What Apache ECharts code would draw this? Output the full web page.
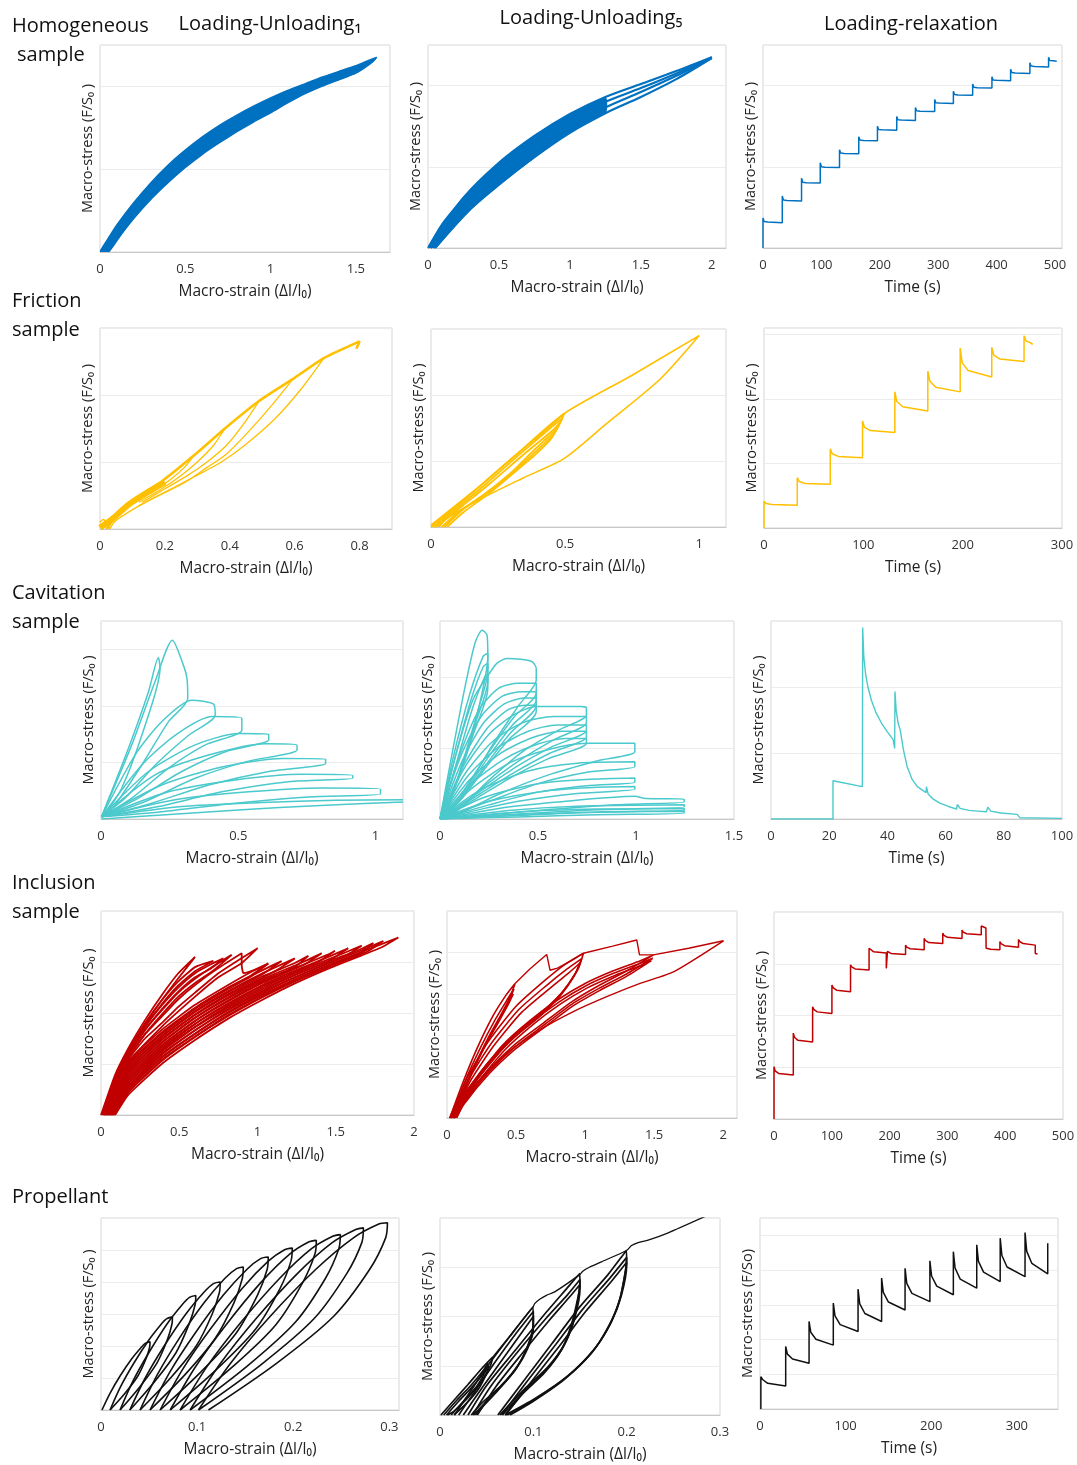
<!DOCTYPE html>
<html>
<head>
<meta charset="utf-8">
<title>Macro-stress response of the samples</title>
<script src="https://cdn.jsdelivr.net/npm/echarts@6.0.0/dist/echarts.min.js"></script>
<style>
  html, body { margin: 0; padding: 0; background: #fff; }
  #chart { width: 1077px; height: 1465px; }
</style>
</head>
<body>
<div id="chart"></div>
<script>
const BLUE = '#0070c0';
const YELLOW = '#ffc000';
const CYAN = '#4bc9cc';
const RED = '#c00000';
const BLACK = '#111111';
const FONT = 'Open Sans';

const STRAIN = 'Macro-strain (Δl/l₀)';
const TIME = 'Time (s)';
const STRESS = 'Macro-stress (F/S₀ )';
const STRESS_O = 'Macro-stress (F/So)';

const rowLabels = [
  ['Homogeneous', 'sample'],
  ['Friction', 'sample'],
  ['Cavitation', 'sample'],
  ['Inclusion', 'sample'],
  ['Propellant']
];
const colTitles = ['Loading-Unloading₁', 'Loading-Unloading₅', 'Loading-relaxation'];

// ---------- homogeneous sample ----------
const homLU1Upper = [[0, 0], [0.05, 0.17], [0.1, 0.33], [0.2, 0.6], [0.3, 0.84], [0.4, 1.05], [0.5, 1.23], [0.6, 1.39], [0.7, 1.53], [0.8, 1.65], [0.9, 1.76], [1.0, 1.86], [1.1, 1.95], [1.2, 2.03], [1.3, 2.11], [1.4, 2.18], [1.5, 2.25], [1.62, 2.35]];
const homLU1Lower = [[1.6, 2.3], [1.5, 2.16], [1.4, 2.08], [1.3, 2.0], [1.2, 1.91], [1.1, 1.8], [1.0, 1.68], [0.9, 1.57], [0.8, 1.45], [0.7, 1.32], [0.6, 1.18], [0.5, 1.02], [0.4, 0.84], [0.3, 0.64], [0.2, 0.41], [0.12, 0.2], [0.05, 0]];

const homLU5Upper = [[0, 0], [0.1, 0.3], [0.25, 0.62], [0.5, 1.05], [0.75, 1.38], [1.0, 1.64], [1.25, 1.85]];
const homLU5Lower = [[1.25, 1.67], [1.0, 1.43], [0.75, 1.12], [0.5, 0.78], [0.3, 0.48], [0.15, 0.2], [0.05, 0]];
const homLU5Loops = [
  [[0, 0], [0.25, 0.62], [0.5, 1.05], [0.75, 1.38], [1.0, 1.65], [1.25, 1.86], [1.5, 2.02], [1.75, 2.18], [2.0, 2.35]],
  [[0.02, 0], [0.3, 0.62], [0.5, 0.95], [0.75, 1.3], [1.0, 1.58], [1.25, 1.8], [1.5, 1.97], [1.75, 2.15], [2.0, 2.35]],
  [[0.04, 0], [0.3, 0.55], [0.5, 0.86], [0.75, 1.2], [1.0, 1.5], [1.25, 1.73], [1.5, 1.92], [1.75, 2.12], [2.0, 2.34]],
  [[0.05, 0], [0.3, 0.48], [0.5, 0.78], [0.75, 1.12], [1.0, 1.42], [1.25, 1.66], [1.5, 1.86], [1.75, 2.08], [2.0, 2.34]]
];

const homRelaxTime = [0, 33, 66, 98, 131, 164, 196, 229, 261, 294, 326, 359, 392, 424, 457, 489];
const homRelaxPeak = [0.37, 0.64, 0.86, 1.05, 1.21, 1.37, 1.5, 1.62, 1.73, 1.83, 1.93, 2.02, 2.11, 2.2, 2.28, 2.35];
const homRelaxMid1 = [0.325, 0.59, 0.81, 1.0, 1.17, 1.33, 1.46, 1.58, 1.69, 1.79, 1.89, 1.98, 2.07, 2.16, 2.24, 2.31];
const homRelaxMid2 = [0.32, 0.585, 0.805, 0.995, 1.165, 1.325, 1.455, 1.575, 1.685, 1.785, 1.885, 1.975, 2.065, 2.155, 2.235, 2.305];
const homRelaxEnd = [0.31, 0.58, 0.8, 0.99, 1.16, 1.32, 1.45, 1.57, 1.68, 1.78, 1.88, 1.97, 2.06, 2.15, 2.23, 2.3];

// ---------- friction sample ----------
const fricLU1Envelope = [[0.02, 0], [0.05, 0.2], [0.087, 0.38], [0.19, 0.71], [0.29, 1.1], [0.385, 1.5], [0.49, 1.91], [0.595, 2.24], [0.69, 2.55], [0.8, 2.8], [0.79, 2.69]];
const fricLU1Unload = [
  [[0.69, 2.55], [0.62, 2.09], [0.54, 1.65], [0.446, 1.25], [0.374, 1.0], [0.29, 0.78], [0.22, 0.6], [0.14, 0.4], [0.05, 0.13], [0.03, 0]],
  [[0.595, 2.24], [0.53, 1.85], [0.457, 1.45], [0.39, 1.12], [0.33, 0.92], [0.26, 0.69], [0.19, 0.52], [0.12, 0.35]],
  [[0.49, 1.91], [0.44, 1.55], [0.39, 1.25], [0.33, 1.0], [0.27, 0.8], [0.2, 0.6], [0.13, 0.4]],
  [[0.385, 1.5], [0.35, 1.25], [0.3, 1.0], [0.25, 0.8], [0.19, 0.6], [0.12, 0.4]],
  [[0.29, 1.1], [0.26, 0.92], [0.22, 0.75], [0.17, 0.58], [0.11, 0.4]]
];
const fricLU1Base = [[0, 0.02], [0.04, 0.16], [0.087, 0.36], [0.14, 0.53], [0.2, 0.7]];
const fricLU1Hook = [[0, 0.1], [0.01, 0.14], [0.03, 0]];

const fricLU5Outer = [[0, 0.03], [0.187, 0.64], [0.316, 1.09], [0.497, 1.72], [0.75, 2.3], [1.0, 2.9], [0.857, 2.25], [0.65, 1.55], [0.497, 1.04], [0.342, 0.74], [0.187, 0.43], [0.059, 0.13], [0.03, 0]];
const fricLU5Inner = [
  [[0, 0], [0.1, 0.33], [0.2, 0.68], [0.316, 1.09], [0.42, 1.44], [0.497, 1.72], [0.47, 1.5], [0.42, 1.3], [0.38, 1.15], [0.303, 0.84], [0.2, 0.5], [0.1, 0.22], [0.04, 0]],
  [[0.01, 0], [0.11, 0.33], [0.21, 0.67], [0.33, 1.1], [0.44, 1.48], [0.49, 1.65], [0.46, 1.42], [0.4, 1.18], [0.33, 0.92], [0.23, 0.58], [0.12, 0.27], [0.05, 0]],
  [[0.02, 0], [0.12, 0.33], [0.22, 0.66], [0.34, 1.08], [0.45, 1.45], [0.48, 1.58], [0.45, 1.35], [0.39, 1.1], [0.32, 0.86], [0.22, 0.52], [0.12, 0.22], [0.06, 0]]
];

const fricRelaxTime = [0, 33.5, 66.7, 99.2, 131.7, 164.9, 197.5, 229.3, 261.8];
const fricRelaxPeak = [0.415, 0.78, 1.226, 1.66, 2.11, 2.43, 2.79, 2.8, 2.98];
const fricRelaxMid1 = [0.38, 0.72, 1.15, 1.56, 1.96, 2.28, 2.56, 2.68, 2.9];
const fricRelaxMid2 = [0.365, 0.69, 1.11, 1.51, 1.88, 2.18, 2.44, 2.62, 2.86];
const fricRelaxEnd = [0.354, 0.677, 1.087, 1.48, 1.815, 2.11, 2.34, 2.58, 2.84];

// ---------- cavitation sample ----------
const cavLU1Loops = [
  [[0.002, 0.04], [0.1, 1.25], [0.173, 2.25], [0.209, 2.85], [0.215, 2.66], [0.161, 1.66], [0.075, 0.54], [0.008, 0.04]],
  [[0.002, 0.04], [0.112, 1.31], [0.197, 2.43], [0.26, 3.16], [0.3, 2.72], [0.313, 2.49], [0.316, 2.13], [0.246, 1.72], [0.148, 0.95], [0.051, 0.25], [0.002, 0.04]],
  [[0.002, 0.04], [0.124, 1.13], [0.221, 1.72], [0.331, 2.1], [0.41, 2.03], [0.416, 1.84], [0.319, 1.48], [0.197, 0.95], [0.088, 0.37], [0.002, 0.04]],
  [[0.002, 0.04], [0.148, 0.95], [0.27, 1.48], [0.404, 1.81], [0.513, 1.78], [0.513, 1.57], [0.38, 1.31], [0.246, 0.9], [0.112, 0.37], [0.002, 0.04]],
  [[0.002, 0.04], [0.173, 0.84], [0.343, 1.31], [0.501, 1.51], [0.611, 1.5], [0.611, 1.4], [0.453, 1.19], [0.294, 0.84], [0.136, 0.37], [0.002, 0.04]],
  [[0.002, 0.04], [0.197, 0.78], [0.392, 1.13], [0.599, 1.33], [0.714, 1.31], [0.714, 1.22], [0.526, 1.01], [0.343, 0.72], [0.161, 0.31], [0.002, 0.04]],
  [[0.002, 0.04], [0.221, 0.6], [0.44, 0.92], [0.659, 1.07], [0.818, 1.06], [0.818, 0.98], [0.611, 0.84], [0.392, 0.6], [0.185, 0.28], [0.002, 0.04]],
  [[0.002, 0.04], [0.246, 0.48], [0.489, 0.69], [0.732, 0.79], [0.917, 0.77], [0.917, 0.72], [0.684, 0.66], [0.44, 0.48], [0.209, 0.22], [0.002, 0.04]],
  [[0.002, 0.04], [0.27, 0.34], [0.538, 0.48], [0.805, 0.55], [1.018, 0.53], [1.018, 0.44], [0.757, 0.39], [0.489, 0.28], [0.221, 0.13], [0.002, 0.04]],
  [[0.002, 0.04], [0.294, 0.22], [0.586, 0.29], [0.854, 0.33], [1.1, 0.34]],
  [[1.1, 0.3], [0.8, 0.24], [0.5, 0.16], [0.25, 0.08], [0.002, 0]]
];

const cavLU5Loops = [
  [[0, 0], [0.06, 0.9], [0.13, 1.9], [0.18, 2.5], [0.215, 2.67], [0.24, 2.6], [0.244, 2.3], [0.2, 1.6], [0.12, 0.8], [0.04, 0.2], [0, 0]],
  [[0, 0], [0.07, 0.9], [0.15, 1.75], [0.22, 2.3], [0.244, 2.34], [0.244, 2.1], [0.19, 1.5], [0.11, 0.75], [0.04, 0.15], [0, 0]],
  [[0, 0], [0.08, 0.9], [0.16, 1.7], [0.22, 2.15], [0.244, 2.2], [0.244, 1.95], [0.18, 1.35], [0.1, 0.65], [0.03, 0.1], [0, 0]],
  [[0, 0], [0.09, 0.85], [0.17, 1.6], [0.23, 2.02], [0.244, 2.04], [0.244, 1.85], [0.17, 1.2], [0.09, 0.55], [0, 0]],
  [[0, 0], [0.08, 0.9], [0.17, 1.7], [0.25, 2.05], [0.29, 2.2], [0.34, 2.27], [0.466, 2.23], [0.491, 2.13], [0.491, 1.97], [0.4, 1.6], [0.28, 1.1], [0.15, 0.5], [0.05, 0.1], [0, 0]],
  [[0, 0], [0.1, 0.9], [0.2, 1.55], [0.3, 1.85], [0.4, 1.92], [0.491, 1.92], [0.491, 1.78], [0.38, 1.45], [0.25, 0.95], [0.12, 0.4], [0, 0]],
  [[0, 0], [0.1, 0.85], [0.21, 1.45], [0.32, 1.74], [0.42, 1.8], [0.491, 1.8], [0.491, 1.68], [0.37, 1.33], [0.24, 0.85], [0.12, 0.35], [0, 0]],
  [[0, 0], [0.11, 0.8], [0.22, 1.35], [0.33, 1.63], [0.43, 1.71], [0.491, 1.71], [0.491, 1.6], [0.36, 1.22], [0.23, 0.75], [0.11, 0.3], [0, 0]],
  [[0, 0], [0.12, 0.75], [0.24, 1.28], [0.35, 1.55], [0.44, 1.61], [0.491, 1.61], [0.491, 1.52], [0.35, 1.12], [0.22, 0.68], [0.1, 0.25], [0, 0]],
  [[0, 0], [0.12, 0.7], [0.25, 1.2], [0.38, 1.48], [0.491, 1.59], [0.72, 1.59], [0.747, 1.57], [0.747, 1.47], [0.6, 1.25], [0.42, 0.95], [0.25, 0.55], [0.1, 0.15], [0, 0]],
  [[0, 0], [0.13, 0.65], [0.27, 1.1], [0.42, 1.36], [0.58, 1.45], [0.747, 1.45], [0.747, 1.36], [0.58, 1.12], [0.4, 0.82], [0.22, 0.45], [0.08, 0.1], [0, 0]],
  [[0, 0], [0.14, 0.6], [0.29, 1.0], [0.45, 1.24], [0.6, 1.33], [0.747, 1.33], [0.747, 1.25], [0.57, 1.02], [0.39, 0.74], [0.21, 0.4], [0, 0]],
  [[0, 0], [0.15, 0.55], [0.31, 0.93], [0.47, 1.15], [0.62, 1.24], [0.747, 1.24], [0.747, 1.16], [0.56, 0.93], [0.38, 0.66], [0.2, 0.35], [0, 0]],
  [[0, 0], [0.16, 0.5], [0.33, 0.85], [0.5, 1.06], [0.64, 1.14], [0.747, 1.14], [0.747, 1.07], [0.55, 0.85], [0.37, 0.6], [0.19, 0.3], [0, 0]],
  [[0, 0], [0.17, 0.45], [0.36, 0.8], [0.55, 0.98], [0.747, 1.07], [0.994, 1.07], [0.994, 0.95], [0.8, 0.82], [0.55, 0.62], [0.3, 0.35], [0.1, 0.08], [0, 0]],
  [[0, 0], [0.2, 0.4], [0.45, 0.68], [0.7, 0.79], [0.994, 0.81], [0.994, 0.74], [0.75, 0.66], [0.5, 0.5], [0.25, 0.25], [0, 0]],
  [[0, 0], [0.22, 0.3], [0.5, 0.5], [0.75, 0.56], [0.994, 0.58], [0.994, 0.52], [0.75, 0.47], [0.5, 0.38], [0.25, 0.2], [0, 0]],
  [[0, 0], [0.25, 0.25], [0.55, 0.4], [0.8, 0.45], [0.994, 0.46], [0.994, 0.42], [0.7, 0.36], [0.4, 0.25], [0.15, 0.1], [0, 0]],
  [[0, 0], [0.3, 0.15], [0.6, 0.24], [0.994, 0.32], [1.05, 0.29], [1.246, 0.28], [1.246, 0.24], [0.9, 0.2], [0.5, 0.12], [0.2, 0.05], [0, 0]],
  [[0, 0], [0.35, 0.12], [0.7, 0.18], [1.246, 0.2], [1.246, 0.17], [0.8, 0.13], [0.4, 0.07], [0, 0]],
  [[0, 0], [0.4, 0.1], [0.8, 0.14], [1.246, 0.15], [1.246, 0.12], [0.8, 0.1], [0.4, 0.05], [0, 0]],
  [[0, 0], [0.45, 0.07], [0.9, 0.1], [1.246, 0.11], [1.246, 0.08], [0.8, 0.06], [0.4, 0.03], [0, 0]]
];

const cavRelaxTime = [0, 21.3, 21.3, 31.4, 31.5, 31.9, 32.5, 33.3, 34.5, 36, 38, 40, 42, 42.5, 42.6, 43, 43.7, 44.4, 45.5, 46.8, 48.5, 50.3, 53.3, 53.4, 54, 55.5, 58, 61, 63.8, 64, 65, 68, 71, 74, 74.5, 75.5, 79, 84.6, 85.5, 100];
const cavRelaxStress = [0, 0, 0.58, 0.49, 2.9, 2.45, 2.2, 2.0, 1.8, 1.62, 1.45, 1.32, 1.2, 1.07, 1.93, 1.65, 1.45, 1.35, 1.05, 0.79, 0.6, 0.49, 0.4, 0.49, 0.38, 0.31, 0.24, 0.19, 0.15, 0.22, 0.16, 0.13, 0.12, 0.11, 0.18, 0.12, 0.09, 0.07, 0.02, 0.01];

// ---------- inclusion sample ----------
const inclLU1Fam1 = [
  [[0, 0], [0.089, 0.78], [0.175, 1.31], [0.281, 1.86], [0.388, 2.35], [0.494, 2.78], [0.601, 3.1], [0.494, 2.68], [0.388, 2.25], [0.281, 1.77], [0.175, 1.22], [0.089, 0.7], [0.02, 0]],
  [[0.005, 0], [0.089, 0.74], [0.175, 1.27], [0.281, 1.8], [0.388, 2.25], [0.494, 2.62], [0.601, 2.9], [0.718, 3.02], [0.601, 2.82], [0.494, 2.54], [0.388, 2.17], [0.281, 1.72], [0.175, 1.19], [0.089, 0.66], [0.025, 0]],
  [[0.01, 0], [0.089, 0.7], [0.175, 1.23], [0.281, 1.74], [0.388, 2.15], [0.494, 2.5], [0.601, 2.78], [0.7, 2.95], [0.782, 3.07], [0.7, 2.87], [0.601, 2.7], [0.494, 2.42], [0.388, 2.07], [0.281, 1.66], [0.175, 1.15], [0.089, 0.62], [0.03, 0]],
  [[0.015, 0], [0.089, 0.66], [0.175, 1.18], [0.281, 1.67], [0.388, 2.05], [0.494, 2.4], [0.601, 2.67], [0.72, 2.92], [0.835, 3.14], [0.72, 2.84], [0.601, 2.59], [0.494, 2.32], [0.388, 1.97], [0.281, 1.59], [0.175, 1.1], [0.089, 0.58], [0.035, 0]],
  [[0.02, 0], [0.089, 0.62], [0.175, 1.13], [0.281, 1.58], [0.388, 1.93], [0.494, 2.27], [0.601, 2.55], [0.75, 2.88], [0.899, 3.17], [0.899, 2.94], [0.91, 2.78], [0.96, 2.82], [1.069, 2.97], [0.95, 2.72], [0.813, 2.5], [0.601, 2.1], [0.388, 1.62], [0.175, 1.0], [0.03, 0]],
  [[0.02, 0], [0.089, 0.58], [0.175, 1.09], [0.281, 1.5], [0.388, 1.8], [0.494, 2.12], [0.601, 2.4], [0.75, 2.78], [0.9, 3.08], [1.001, 3.27], [0.9, 2.98], [0.75, 2.7], [0.601, 2.32], [0.388, 1.73], [0.175, 1.03], [0.04, 0]]
];
const inclLU1Fam2 = [
  [[0.01, 0], [0.175, 1.05], [0.388, 1.67], [0.601, 2.16], [0.813, 2.55], [0.95, 2.79], [1.069, 2.97], [0.95, 2.7], [0.813, 2.47], [0.601, 2.08], [0.388, 1.59], [0.175, 0.97], [0.03, 0]],
  [[0.016, 0], [0.175, 0.99], [0.388, 1.61], [0.601, 2.1], [0.813, 2.49], [1.026, 2.83], [1.154, 3.02], [1.026, 2.75], [0.813, 2.41], [0.601, 2.02], [0.388, 1.53], [0.175, 0.91], [0.036, 0]],
  [[0.022, 0], [0.175, 0.93], [0.388, 1.55], [0.601, 2.04], [0.813, 2.43], [1.026, 2.77], [1.239, 3.07], [1.1, 2.8], [0.813, 2.35], [0.601, 1.96], [0.388, 1.47], [0.175, 0.85], [0.042, 0]],
  [[0.028, 0], [0.175, 0.87], [0.388, 1.49], [0.601, 1.97], [0.813, 2.37], [1.026, 2.71], [1.239, 2.98], [1.325, 3.12], [1.239, 2.9], [1.026, 2.63], [0.813, 2.29], [0.601, 1.9], [0.388, 1.41], [0.175, 0.79], [0.048, 0]],
  [[0.034, 0], [0.175, 0.81], [0.388, 1.43], [0.601, 1.91], [0.813, 2.31], [1.026, 2.66], [1.239, 2.93], [1.41, 3.17], [1.3, 2.95], [1.026, 2.58], [0.813, 2.23], [0.601, 1.84], [0.388, 1.35], [0.175, 0.73], [0.054, 0]],
  [[0.04, 0], [0.175, 0.75], [0.388, 1.37], [0.601, 1.85], [0.813, 2.25], [1.026, 2.6], [1.239, 2.88], [1.453, 3.15], [1.495, 3.22], [1.4, 3.02], [1.239, 2.8], [1.026, 2.52], [0.813, 2.17], [0.601, 1.78], [0.388, 1.29], [0.175, 0.67], [0.06, 0]],
  [[0.046, 0], [0.175, 0.69], [0.388, 1.32], [0.601, 1.79], [0.813, 2.19], [1.026, 2.54], [1.239, 2.83], [1.453, 3.1], [1.58, 3.27], [1.453, 3.02], [1.239, 2.75], [1.026, 2.46], [0.813, 2.11], [0.601, 1.72], [0.388, 1.24], [0.175, 0.61], [0.066, 0]],
  [[0.052, 0], [0.175, 0.63], [0.388, 1.26], [0.601, 1.73], [0.813, 2.14], [1.026, 2.49], [1.239, 2.78], [1.453, 3.05], [1.666, 3.32], [1.55, 3.1], [1.239, 2.7], [1.026, 2.41], [0.813, 2.06], [0.601, 1.66], [0.388, 1.18], [0.175, 0.55], [0.072, 0]],
  [[0.058, 0], [0.175, 0.57], [0.388, 1.2], [0.601, 1.66], [0.813, 2.08], [1.026, 2.43], [1.239, 2.74], [1.453, 3.01], [1.666, 3.26], [1.74, 3.37], [1.666, 3.18], [1.453, 2.93], [1.239, 2.66], [1.026, 2.35], [0.813, 2.0], [0.601, 1.59], [0.388, 1.12], [0.175, 0.5], [0.078, 0]],
  [[0.064, 0], [0.175, 0.52], [0.388, 1.14], [0.601, 1.6], [0.813, 2.02], [1.026, 2.38], [1.239, 2.7], [1.453, 2.98], [1.666, 3.23], [1.804, 3.41], [1.7, 3.2], [1.453, 2.9], [1.239, 2.62], [1.026, 2.3], [0.813, 1.94], [0.601, 1.53], [0.388, 1.06], [0.175, 0.45], [0.084, 0]],
  [[0.07, 0], [0.175, 0.46], [0.388, 1.08], [0.601, 1.54], [0.813, 1.96], [1.026, 2.32], [1.239, 2.65], [1.453, 2.94], [1.666, 3.2], [1.9, 3.48], [1.8, 3.3], [1.666, 3.13], [1.453, 2.87], [1.239, 2.58], [1.026, 2.25], [0.813, 1.89], [0.601, 1.47], [0.388, 1.0], [0.175, 0.4], [0.09, 0]]
];

const inclLU5Loops = [
  [[0.02, 0], [0.12, 0.9], [0.22, 1.7], [0.33, 2.45], [0.43, 2.98], [0.493, 3.25], [0.46, 2.95], [0.4, 2.55], [0.3, 1.95], [0.19, 1.2], [0.08, 0.4], [0.03, 0]],
  [[0.03, 0], [0.13, 0.88], [0.24, 1.68], [0.35, 2.38], [0.44, 2.88], [0.485, 3.12], [0.45, 2.85], [0.39, 2.45], [0.29, 1.85], [0.18, 1.1], [0.08, 0.35], [0.04, 0]],
  [[0.04, 0], [0.15, 0.9], [0.26, 1.66], [0.37, 2.35], [0.45, 2.8], [0.48, 3.0], [0.44, 2.72], [0.37, 2.3], [0.27, 1.7], [0.17, 1.0], [0.08, 0.3], [0.05, 0]],
  [[0.02, 0], [0.15, 1.0], [0.3, 1.85], [0.5, 2.7], [0.7, 3.3], [0.85, 3.7], [0.988, 3.98], [0.95, 3.6], [0.85, 3.1], [0.7, 2.6], [0.5, 2.05], [0.3, 1.35], [0.13, 0.6], [0.04, 0]],
  [[0.03, 0], [0.16, 0.95], [0.32, 1.8], [0.52, 2.62], [0.72, 3.2], [0.87, 3.6], [0.975, 3.85], [0.93, 3.5], [0.83, 3.02], [0.68, 2.52], [0.48, 1.97], [0.29, 1.28], [0.13, 0.55], [0.05, 0]],
  [[0.04, 0], [0.17, 0.9], [0.34, 1.75], [0.54, 2.55], [0.74, 3.12], [0.88, 3.5], [0.965, 3.75], [0.92, 3.42], [0.82, 2.95], [0.67, 2.45], [0.47, 1.9], [0.28, 1.2], [0.13, 0.5], [0.06, 0]],
  [[0.03, 0], [0.2, 0.9], [0.4, 1.75], [0.6, 2.35], [0.8, 2.85], [1.0, 3.25], [1.2, 3.55], [1.4, 3.8], [1.495, 3.94], [1.3, 3.55], [1.1, 3.2], [0.9, 2.8], [0.7, 2.3], [0.5, 1.8], [0.3, 1.15], [0.12, 0.4], [0.05, 0]],
  [[0.04, 0], [0.21, 0.88], [0.41, 1.7], [0.61, 2.3], [0.81, 2.8], [1.01, 3.2], [1.21, 3.5], [1.4, 3.74], [1.49, 3.86], [1.3, 3.48], [1.1, 3.13], [0.9, 2.74], [0.7, 2.24], [0.5, 1.74], [0.3, 1.1], [0.12, 0.36], [0.06, 0]],
  [[0.05, 0], [0.22, 0.85], [0.42, 1.65], [0.62, 2.25], [0.82, 2.75], [1.02, 3.15], [1.22, 3.45], [1.4, 3.68], [1.48, 3.8], [1.3, 3.42], [1.1, 3.07], [0.9, 2.68], [0.7, 2.18], [0.5, 1.68], [0.3, 1.05], [0.12, 0.32], [0.07, 0]]
];
const inclLU5Top = [[0.493, 3.25], [0.6, 3.6], [0.722, 3.95], [0.746, 3.57], [0.8, 3.62], [0.9, 3.8], [0.988, 3.98], [1.2, 4.15], [1.374, 4.3], [1.394, 3.94], [1.495, 3.94], [1.75, 4.1], [2.002, 4.28]];
const inclLU5Outer = [[2.002, 4.28], [1.64, 3.53], [1.398, 3.25], [1.157, 2.93], [0.915, 2.57], [0.674, 2.13], [0.432, 1.56], [0.191, 0.76], [0.022, 0]];

const inclRelaxTime = [0, 33.4, 66.8, 100.2, 132.4, 164.5, 194.3, 227.6, 259.8, 292, 325.3, 358.6, 367, 390.8, 423, 452];
const inclRelaxPeak = [1.01, 1.66, 2.17, 2.59, 2.98, 3.3, 2.91, 3.36, 3.49, 3.59, 3.65, 3.73, 3.3, 3.43, 3.47, 3.2];
const inclRelaxMid1 = [0.93, 1.58, 2.12, 2.54, 2.94, 3.27, 3.24, 3.32, 3.45, 3.55, 3.61, 3.71, 3.29, 3.39, 3.43, 3.2];
const inclRelaxMid2 = [0.88, 1.52, 2.07, 2.49, 2.9, 3.23, 3.2, 3.29, 3.41, 3.51, 3.58, 3.69, 3.28, 3.35, 3.39, 3.19];
const inclRelaxEnd = [0.85, 1.49, 2.04, 2.46, 2.88, 3.21, 3.18, 3.27, 3.39, 3.49, 3.56, 3.68, 3.27, 3.32, 3.36, 3.19];

// ---------- propellant ----------
const propLU1Loops = [
  [[0.001, 0], [0.0095, 0.53], [0.02, 1.07], [0.032, 1.6], [0.042, 1.96], [0.046, 2.08], [0.051, 2.13], [0.0506, 1.96], [0.0468, 1.6], [0.0385, 1.07], [0.0252, 0.53], [0.0094, 0]],
  [[0.0094, 0], [0.0204, 0.73], [0.0341, 1.46], [0.0496, 2.18], [0.0626, 2.68], [0.068, 2.85], [0.0743, 2.91], [0.0738, 2.68], [0.0688, 2.18], [0.058, 1.46], [0.0405, 0.73], [0.0198, 0]],
  [[0.0198, 0], [0.0332, 0.9], [0.0497, 1.79], [0.0687, 2.69], [0.0844, 3.29], [0.092, 3.52], [0.0986, 3.58], [0.0979, 3.29], [0.0917, 2.69], [0.078, 1.79], [0.0561, 0.9], [0.03, 0]],
  [[0.03, 0], [0.046, 1.0], [0.0657, 2.0], [0.0883, 3.0], [0.1071, 3.68], [0.117, 3.95], [0.124, 4.0], [0.1232, 3.68], [0.1157, 3.0], [0.099, 2.0], [0.0723, 1.0], [0.0406, 0]],
  [[0.0406, 0], [0.0589, 1.12], [0.0814, 2.24], [0.1072, 3.35], [0.1287, 4.11], [0.141, 4.42], [0.148, 4.47], [0.147, 4.11], [0.1383, 3.35], [0.1189, 2.24], [0.0879, 1.12], [0.051, 0]],
  [[0.051, 0], [0.0719, 1.2], [0.0977, 2.39], [0.1273, 3.59], [0.1519, 4.4], [0.166, 4.73], [0.174, 4.78], [0.1729, 4.4], [0.1628, 3.59], [0.1403, 2.39], [0.1043, 1.2], [0.0615, 0]],
  [[0.0615, 0], [0.0849, 1.27], [0.1138, 2.53], [0.1468, 3.8], [0.1743, 4.66], [0.191, 5.01], [0.199, 5.06], [0.1977, 4.66], [0.1863, 3.8], [0.1609, 2.53], [0.1203, 1.27], [0.072, 0]],
  [[0.072, 0], [0.0978, 1.33], [0.1298, 2.65], [0.1662, 3.98], [0.1966, 4.88], [0.216, 5.25], [0.224, 5.3], [0.2226, 4.88], [0.2098, 3.98], [0.1815, 2.65], [0.1361, 1.33], [0.0823, 0]],
  [[0.0823, 0], [0.1106, 1.37], [0.1456, 2.74], [0.1857, 4.11], [0.219, 5.04], [0.241, 5.43], [0.249, 5.48], [0.2474, 5.04], [0.2334, 4.11], [0.2021, 2.74], [0.1521, 1.37], [0.0927, 0]],
  [[0.0927, 0], [0.1234, 1.42], [0.1612, 2.85], [0.2045, 4.27], [0.2405, 5.23], [0.265, 5.64], [0.273, 5.69], [0.2713, 5.23], [0.2558, 4.27], [0.2215, 2.85], [0.1666, 1.42], [0.1014, 0]],
  [[0.1014, 0], [0.1348, 1.46], [0.1761, 2.93], [0.2233, 4.39], [0.2626, 5.38], [0.289, 5.81], [0.298, 5.85], [0.2961, 5.38], [0.2794, 4.39], [0.2421, 2.93], [0.1826, 1.46], [0.1118, 0]]
];

const propLU5Loops = [
  [[0.001, 0], [0.015, 0.3], [0.03, 0.62], [0.045, 0.95], [0.0567, 1.18], [0.054, 1.0], [0.045, 0.7], [0.03, 0.35], [0.015, 0.08], [0.008, 0]],
  [[0.004, 0], [0.018, 0.3], [0.033, 0.6], [0.047, 0.92], [0.0513, 1.05], [0.049, 0.9], [0.04, 0.6], [0.026, 0.3], [0.012, 0]],
  [[0.007, 0], [0.02, 0.28], [0.035, 0.58], [0.048, 0.88], [0.0525, 1.0], [0.05, 0.85], [0.042, 0.55], [0.029, 0.25], [0.015, 0]],
  [[0.0155, 0], [0.035, 0.55], [0.055, 1.1], [0.075, 1.6], [0.0996, 2.19], [0.1, 1.82], [0.0943, 1.42], [0.0835, 1.01], [0.0657, 0.6], [0.0442, 0.23], [0.0335, 0]],
  [[0.02, 0], [0.04, 0.55], [0.06, 1.1], [0.08, 1.62], [0.1, 2.1], [0.1, 1.75], [0.094, 1.35], [0.082, 0.95], [0.064, 0.55], [0.046, 0.2], [0.036, 0]],
  [[0.025, 0], [0.045, 0.55], [0.064, 1.05], [0.084, 1.58], [0.1, 2.0], [0.099, 1.7], [0.092, 1.3], [0.08, 0.9], [0.062, 0.5], [0.045, 0.15], [0.038, 0]],
  [[0.03, 0], [0.05, 0.6], [0.08, 1.3], [0.11, 2.0], [0.135, 2.55], [0.1497, 2.87], [0.15, 2.57], [0.1444, 1.97], [0.1336, 1.45], [0.1157, 0.98], [0.0907, 0.53], [0.064, 0]],
  [[0.035, 0], [0.055, 0.6], [0.084, 1.3], [0.113, 1.95], [0.137, 2.45], [0.15, 2.75], [0.149, 2.5], [0.143, 1.9], [0.132, 1.38], [0.114, 0.92], [0.09, 0.48], [0.067, 0]],
  [[0.04, 0], [0.06, 0.58], [0.088, 1.25], [0.116, 1.9], [0.139, 2.4], [0.15, 2.65], [0.148, 2.4], [0.141, 1.85], [0.13, 1.32], [0.112, 0.86], [0.088, 0.42], [0.07, 0]],
  [[0.062, 0], [0.09, 0.7], [0.12, 1.45], [0.15, 2.2], [0.18, 2.85], [0.1998, 3.34], [0.2, 3.04], [0.1944, 2.43], [0.1837, 1.89], [0.1658, 1.35], [0.1372, 0.8], [0.1014, 0.33], [0.07, 0]],
  [[0.066, 0], [0.094, 0.7], [0.124, 1.43], [0.153, 2.15], [0.182, 2.78], [0.2, 3.2], [0.199, 2.95], [0.193, 2.38], [0.182, 1.84], [0.164, 1.3], [0.135, 0.76], [0.1, 0.3], [0.072, 0]],
  [[0.07, 0], [0.098, 0.68], [0.128, 1.4], [0.156, 2.1], [0.184, 2.72], [0.2, 3.1], [0.198, 2.85], [0.192, 2.3], [0.18, 1.78], [0.162, 1.25], [0.133, 0.72], [0.1, 0.28], [0.075, 0]]
];
const propLU5Top = [[0.0567, 1.18], [0.0996, 2.19], [0.1014, 2.26], [0.1068, 2.35], [0.114, 2.43], [0.1229, 2.5], [0.1497, 2.85], [0.153, 2.92], [0.16, 3.0], [0.173, 3.11], [0.1998, 3.34], [0.2052, 3.44], [0.2123, 3.5], [0.223, 3.55], [0.2445, 3.7], [0.285, 4.04]];

const propRelaxTime = [1, 30, 57.3, 85.6, 114.5, 142, 169.4, 198.4, 225.8, 253.1, 280.5, 309.5, 336];
const propRelaxPeak = [0.93, 1.8, 2.52, 3.05, 3.45, 3.77, 4.05, 4.27, 4.53, 4.73, 4.92, 5.08, 4.77];
const propRelaxMid1 = [0.85, 1.58, 2.21, 2.68, 3.03, 3.36, 3.62, 3.83, 4.06, 4.25, 4.42, 4.54, 4.77];
const propRelaxMid2 = [0.74, 1.44, 2.01, 2.43, 2.75, 3.08, 3.33, 3.54, 3.74, 3.94, 4.09, 4.19, 4.77];
const propRelaxEnd = [0.66, 1.32, 1.84, 2.23, 2.52, 2.85, 3.09, 3.29, 3.48, 3.67, 3.81, 3.89, 4.77];

// ---------- panel layout (pixels) ----------
const panels = [
  { left: 100, top: 45, width: 290, height: 207, xMax: 1.7, xStep: 0.5, yMax: 2.5, showMax: false, xName: STRAIN },
  { left: 428, top: 45, width: 298, height: 203, xMax: 2.1, xStep: 0.5, yMax: 2.5, showMax: false, xName: STRAIN },
  { left: 763, top: 45, width: 299, height: 203, xMax: 512, xStep: 100, yMax: 2.5, showMax: false, xName: TIME },
  { left: 100, top: 328, width: 292, height: 201, xMax: 0.9, xStep: 0.2, yMax: 3, showMax: false, xName: STRAIN },
  { left: 431, top: 329, width: 295, height: 198, xMax: 1.1, xStep: 0.5, yMax: 3, showMax: false, xName: STRAIN },
  { left: 764, top: 328, width: 298, height: 200, xMax: 300, xStep: 100, yMax: 3.1, showMax: true, xName: TIME },
  { left: 101, top: 621, width: 302, height: 198, xMax: 1.1, xStep: 0.5, yMax: 3.5, showMax: false, xName: STRAIN },
  { left: 440, top: 621, width: 294, height: 198, xMax: 1.5, xStep: 0.5, yMax: 2.8, showMax: true, xName: STRAIN },
  { left: 771, top: 621, width: 291, height: 198, xMax: 100, xStep: 20, yMax: 3, showMax: true, xName: TIME },
  { left: 101, top: 911, width: 313, height: 204, xMax: 2, xStep: 0.5, yMax: 4, showMax: true, xName: STRAIN },
  { left: 447, top: 911, width: 290, height: 207, xMax: 2.1, xStep: 0.5, yMax: 5, showMax: false, xName: STRAIN },
  { left: 774, top: 912, width: 289, height: 207, xMax: 500, xStep: 100, yMax: 4, showMax: true, xName: TIME },
  { left: 101, top: 1218, width: 298, height: 192, xMax: 0.31, xStep: 0.1, yMax: 6, showMax: false, xName: STRAIN },
  { left: 440, top: 1218, width: 280, height: 197, xMax: 0.3, xStep: 0.1, yMax: 4, showMax: true, xName: STRAIN },
  { left: 760, top: 1218, width: 298, height: 191, xMax: 348, xStep: 100, yMax: 5.5, showMax: false, xName: TIME, yName: STRESS_O }
];

// ---------- series helpers ----------
const series = [];
function addLine(p, pts, color, width, smooth) {
  series.push({
    type: 'line', xAxisIndex: p, yAxisIndex: p, data: pts,
    symbol: 'none', smooth: smooth || false, silent: true,
    lineStyle: { color: color, width: width }
  });
}
function addBand(p, upper, lower, color) {
  const pts = upper.concat(lower);
  series.push({
    type: 'custom', xAxisIndex: p, yAxisIndex: p, data: [[0, 0]], clip: true, silent: true,
    renderItem: (params, api) => ({
      type: 'polygon',
      shape: { points: pts.map(q => api.coord(q)), smooth: 0.15 },
      style: { fill: color, stroke: color, lineWidth: 1.5 }
    })
  });
}
function relaxPath(times, peaks, mid1, mid2, ends, tEnd) {
  const pts = [[times[0], 0]];
  times.forEach((t, i) => {
    const next = i + 1 < times.length ? times[i + 1] : tEnd;
    pts.push([t, peaks[i]]);
    if (t + 2 < next) pts.push([t + 2, mid1[i]]);
    if (t + 8 < next) pts.push([t + 8, mid2[i]]);
    pts.push([next, ends[i]]);
  });
  return pts;
}

// homogeneous
addBand(0, homLU1Upper, homLU1Lower, BLUE);
addBand(1, homLU5Upper, homLU5Lower, BLUE);
homLU5Loops.forEach(l => addLine(1, l, BLUE, 2.2, 0.3));
addLine(2, relaxPath(homRelaxTime, homRelaxPeak, homRelaxMid1, homRelaxMid2, homRelaxEnd, 503), BLUE, 1.5);

// friction
addLine(3, fricLU1Base, YELLOW, 6, 0.3);
addLine(3, fricLU1Hook, YELLOW, 1.5, 0.3);
addLine(3, fricLU1Envelope, YELLOW, 2.6, 0.2);
fricLU1Unload.forEach(l => addLine(3, l, YELLOW, 1.3, 0.3));
addLine(4, fricLU5Outer, YELLOW, 1.6, 0.25);
fricLU5Inner.forEach(l => addLine(4, l, YELLOW, 1.8, 0.25));
addLine(5, relaxPath(fricRelaxTime, fricRelaxPeak, fricRelaxMid1, fricRelaxMid2, fricRelaxEnd, 270), YELLOW, 1.5);

// cavitation
cavLU1Loops.forEach(l => addLine(6, l, CYAN, 1.5, 0.25));
cavLU5Loops.forEach(l => addLine(7, l, CYAN, 1.5, 0.25));
addLine(8, cavRelaxTime.map((t, i) => [t, cavRelaxStress[i]]), CYAN, 1.4);

// inclusion
inclLU1Fam1.forEach(l => addLine(9, l, RED, 1.8, 0.15));
inclLU1Fam2.forEach(l => addLine(9, l, RED, 1.8, 0.15));
inclLU5Loops.forEach(l => addLine(10, l, RED, 1.6, 0.2));
addLine(10, inclLU5Top, RED, 1.4);
addLine(10, inclLU5Outer, RED, 1.4, 0.2);
addLine(11, relaxPath(inclRelaxTime, inclRelaxPeak, inclRelaxMid1, inclRelaxMid2, inclRelaxEnd, 456), RED, 1.5);

// propellant
propLU1Loops.forEach(l => addLine(12, l, BLACK, 1.6, 0.3));
propLU5Loops.forEach(l => addLine(13, l, BLACK, 1.7, 0.25));
addLine(13, propLU5Top, BLACK, 1.3, 0.2);
addLine(14, relaxPath(propRelaxTime, propRelaxPeak, propRelaxMid1, propRelaxMid2, propRelaxEnd, 336.5), BLACK, 1.5);

// ---------- texts ----------
const graphic = [];
const rowY = [26, 301, 593, 883, 1197];
rowLabels.forEach((lines, r) => {
  lines.forEach((txt, k) => {
    graphic.push({
      type: 'text', x: r === 0 && k === 1 ? 17 : 12, y: rowY[r] + k * 29,
      style: { text: txt, fontFamily: FONT, fontSize: 20, fill: '#111', textVerticalAlign: 'middle' }
    });
  });
});
const colX = [270, 591, 911];
const colY = [24, 18, 24];
colTitles.forEach((txt, c) => {
  graphic.push({
    type: 'text', x: colX[c], y: colY[c],
    style: { text: txt, fontFamily: FONT, fontSize: 20, fill: '#111', textAlign: 'center', textVerticalAlign: 'middle' }
  });
});

const chart = echarts.init(document.getElementById('chart'));
chart.setOption({
  animation: false,
  backgroundColor: '#ffffff',
  graphic: graphic,
  grid: panels.map(p => ({
    left: p.left, top: p.top, width: p.width, height: p.height,
    show: true, borderColor: '#d6d6d6', borderWidth: 1, backgroundColor: '#ffffff',
    outerBoundsMode: 'none'
  })),
  xAxis: panels.map((p, i) => ({
    gridIndex: i, type: 'value', min: 0, max: p.xMax, interval: p.xStep,
    name: p.xName, nameLocation: 'middle', nameGap: 32,
    nameTextStyle: { fontFamily: FONT, fontSize: 15.5, color: '#222' },
    axisLine: { show: true, lineStyle: { color: '#c8c8c8' } },
    axisTick: { show: false },
    axisLabel: { fontFamily: FONT, fontSize: 13, color: '#333', margin: 11, showMaxLabel: p.showMax },
    splitLine: { show: false }
  })),
  yAxis: panels.map((p, i) => ({
    gridIndex: i, type: 'value', min: 0, max: p.yMax, interval: 1,
    name: p.yName || STRESS, nameLocation: 'middle', nameGap: 5,
    nameTextStyle: { fontFamily: FONT, fontSize: 14.5, color: '#222' },
    axisLine: { show: false }, axisTick: { show: false }, axisLabel: { show: false },
    splitLine: { show: true, lineStyle: { color: '#ececec', width: 1 } }
  })),
  series: series
});
</script>
</body>
</html>
